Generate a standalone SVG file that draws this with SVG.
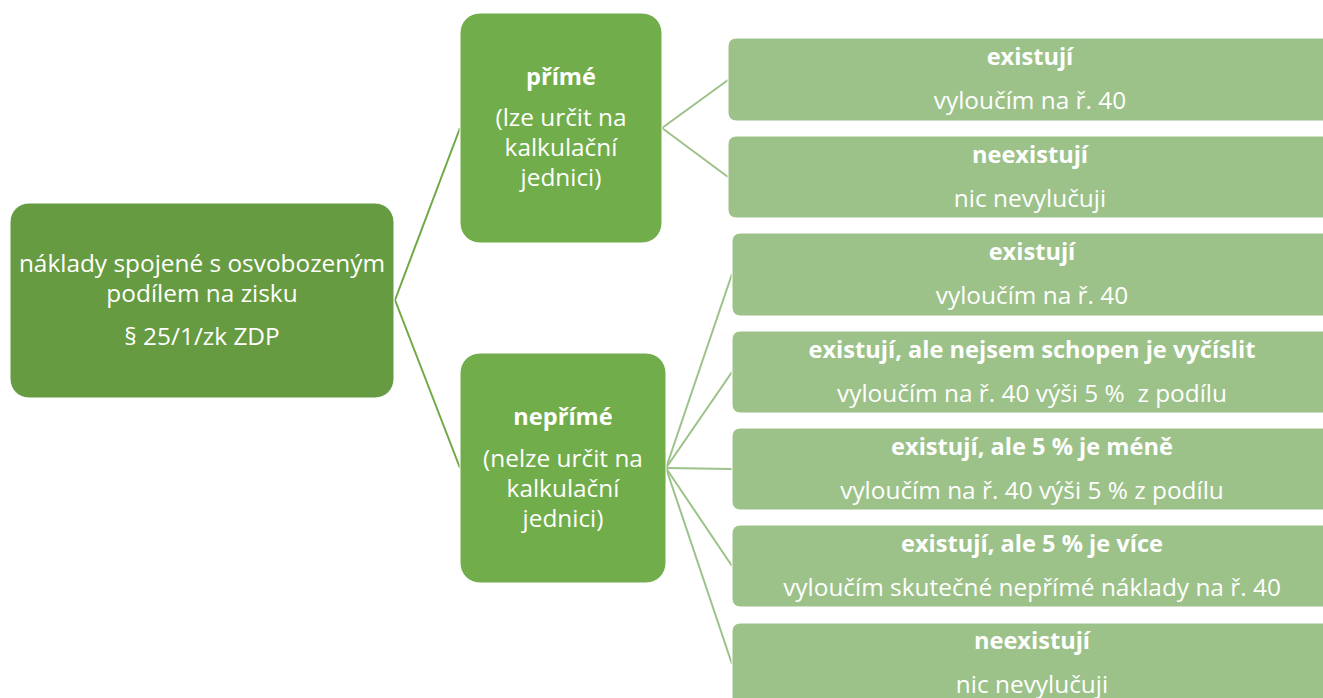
<svg xmlns="http://www.w3.org/2000/svg" width="1323" height="698" viewBox="0 0 1323 698">
<style>
text{font-family:"Open Sans","Noto Sans","Liberation Sans",sans-serif;fill:#ffffff;text-anchor:middle;}
.r{font-size:24.4px;}
.b{font-size:23.6px;font-weight:bold;}
.root{fill:#669b41;stroke:#ffffff;stroke-width:1;}
.mid{fill:#71ad4a;stroke:#ffffff;stroke-width:1;}
.leaf{fill:#9cc289;stroke:#ffffff;stroke-width:1;}
.c1{stroke:#6fa946;stroke-width:2;fill:none;}
.c2{stroke:#9cc289;stroke-width:2;fill:none;}
</style>
<rect width="1323" height="698" fill="#ffffff"/>
<g id="connectors">
<line class="c1" x1="395" y1="300" x2="460" y2="128"/>
<line class="c1" x1="395" y1="300" x2="460" y2="468"/>
<line class="c2" x1="662" y1="128" x2="728" y2="80"/>
<line class="c2" x1="662" y1="128" x2="728" y2="177"/>
<line class="c2" x1="666" y1="468" x2="732" y2="274"/>
<line class="c2" x1="666" y1="468" x2="732" y2="372"/>
<line class="c2" x1="666" y1="468" x2="732" y2="469"/>
<line class="c2" x1="666" y1="468" x2="732" y2="566"/>
<line class="c2" x1="666" y1="468" x2="732" y2="664"/>
</g>
<g id="root">
<rect class="root" x="10" y="203" width="384" height="195" rx="19"/>
<text class="r" x="202" y="272">náklady spojené s osvobozeným</text>
<text class="r" x="202" y="302">podílem na zisku</text>
<text class="r" x="202" y="345">§ 25/1/zk ZDP</text>
</g>
<g id="prime">
<rect class="mid" x="460" y="13" width="202" height="230" rx="20"/>
<text class="b" x="561" y="85">přímé</text>
<text class="r" x="561" y="126">(lze určit na</text>
<text class="r" x="561" y="156">kalkulační</text>
<text class="r" x="561" y="186">jednici)</text>
</g>
<g id="neprime">
<rect class="mid" x="460" y="353" width="206" height="230" rx="20"/>
<text class="b" x="563" y="425">nepřímé</text>
<text class="r" x="563" y="467">(nelze určit na</text>
<text class="r" x="563" y="497">kalkulační</text>
<text class="r" x="563" y="527">jednici)</text>
</g>
<g id="p-existuji">
<rect class="leaf" x="728" y="38" width="610" height="83" rx="8"/>
<text class="b" x="1030" y="65">existují</text>
<text class="r" x="1030" y="109">vyloučím na ř. 40</text>
</g>
<g id="p-neexistuji">
<rect class="leaf" x="728" y="136" width="610" height="82" rx="8"/>
<text class="b" x="1030" y="163">neexistují</text>
<text class="r" x="1030" y="207">nic nevylučuji</text>
</g>
<g id="n-existuji">
<rect class="leaf" x="732" y="233" width="610" height="83" rx="8"/>
<text class="b" x="1032" y="260">existují</text>
<text class="r" x="1032" y="304">vyloučím na ř. 40</text>
</g>
<g id="n-nelze-vycislit">
<rect class="leaf" x="732" y="331" width="610" height="82" rx="8"/>
<text class="b" x="1032" y="358">existují, ale nejsem schopen je vyčíslit</text>
<text class="r" x="1032" y="402" xml:space="preserve">vyloučím na ř. 40 výši 5 %  z podílu</text>
</g>
<g id="n-mene">
<rect class="leaf" x="732" y="428" width="610" height="82" rx="8"/>
<text class="b" x="1032" y="455">existují, ale 5 % je méně</text>
<text class="r" x="1032" y="499">vyloučím na ř. 40 výši 5 % z podílu</text>
</g>
<g id="n-vice">
<rect class="leaf" x="732" y="525" width="610" height="82" rx="8"/>
<text class="b" x="1032" y="552">existují, ale 5 % je více</text>
<text class="r" x="1032" y="596">vyloučím skutečné nepřímé náklady na ř. 40</text>
</g>
<g id="n-neexistuji">
<rect class="leaf" x="732" y="623" width="610" height="83" rx="8"/>
<text class="b" x="1032" y="649">neexistují</text>
<text class="r" x="1032" y="693">nic nevylučuji</text>
</g>
</svg>
